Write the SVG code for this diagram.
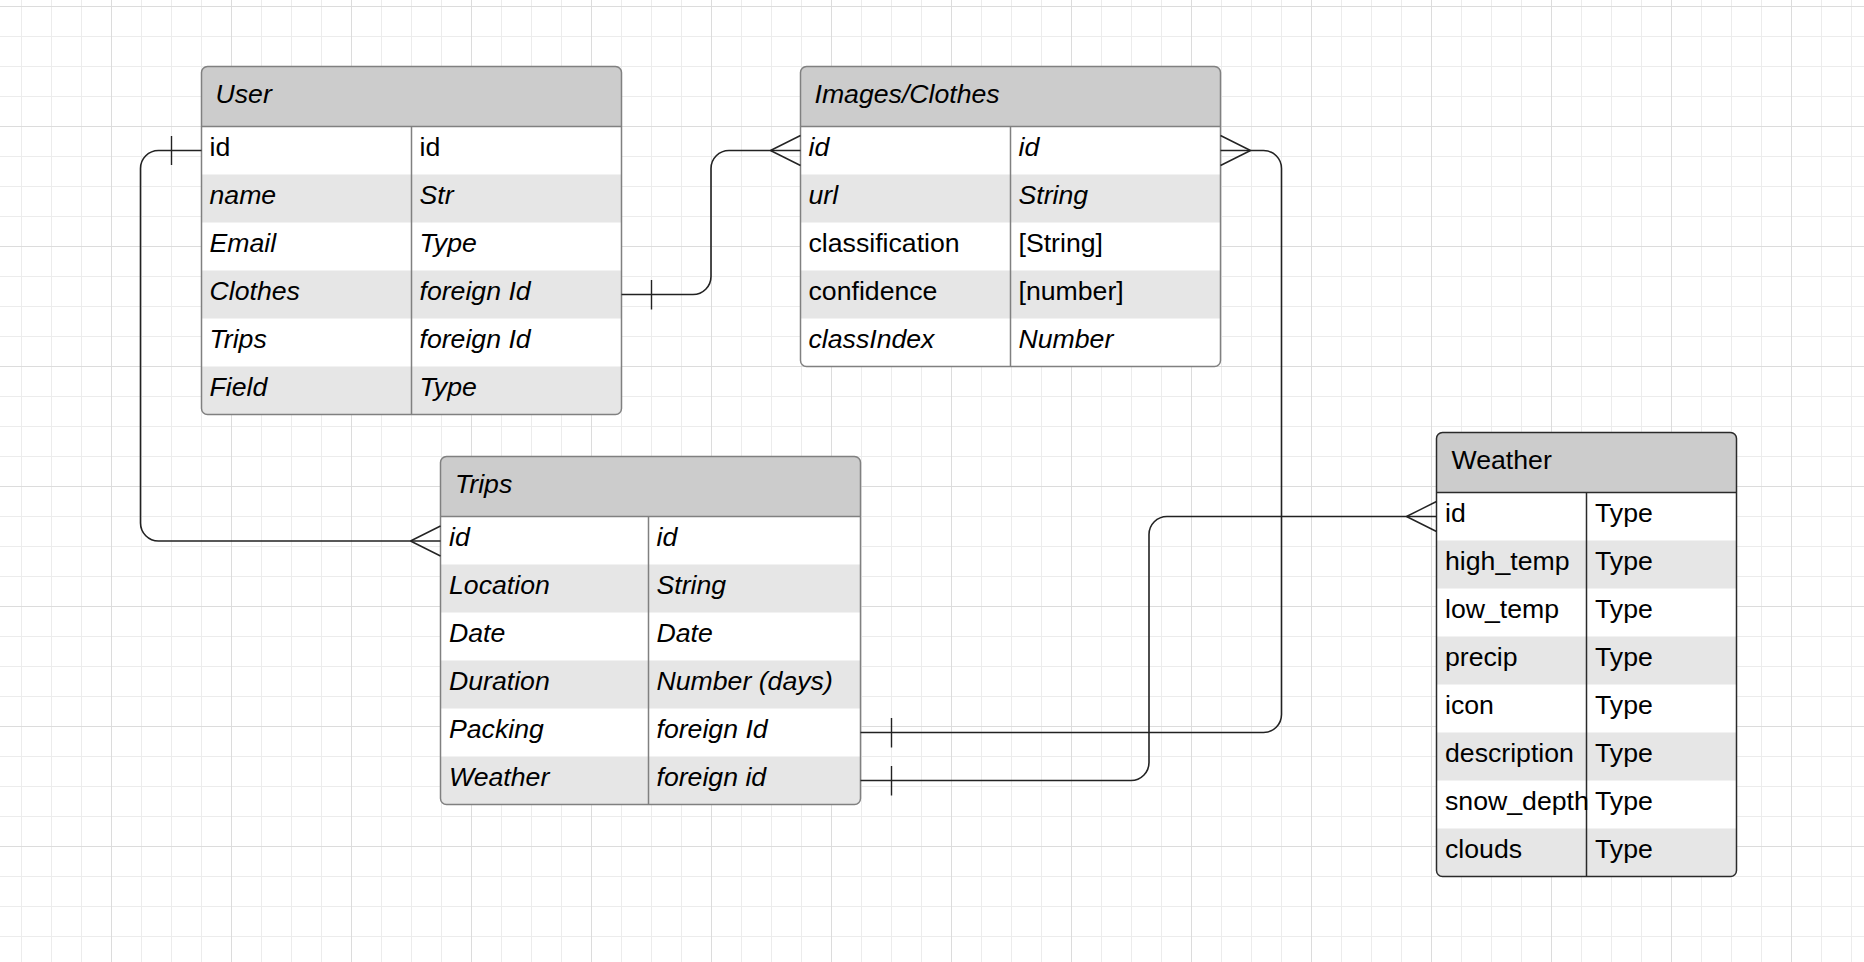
<svg xmlns="http://www.w3.org/2000/svg" width="1864" height="962" viewBox="0 0 1864 962">
  <defs>
    <pattern id="grid" x="111" y="6" width="120" height="120" patternUnits="userSpaceOnUse">
      <path d="M30.5 0V120M60.5 0V120M90.5 0V120M0 30.5H120M0 60.5H120M0 90.5H120" stroke="#ececec" stroke-width="1" fill="none"/>
      <path d="M0.5 0V120M0 0.5H120" stroke="#dcdcdc" stroke-width="1" fill="none"/>
    </pattern>
    <clipPath id="clipUser"><rect x="201.5" y="66.5" width="420" height="348" rx="6"/></clipPath>
    <clipPath id="clipImages"><rect x="800.5" y="66.5" width="420" height="300" rx="6"/></clipPath>
    <clipPath id="clipTrips"><rect x="440.5" y="456.5" width="420" height="348" rx="6"/></clipPath>
    <clipPath id="clipWeather"><rect x="1436.5" y="432.5" width="300" height="444" rx="6"/></clipPath>
  </defs>
  <style>
    text { font-family: "Liberation Sans", Arial, sans-serif; font-size: 26.67px; fill: #000; }
    .i { font-style: italic; }
    .hdr { fill: #cccccc; }
    .alt { fill: #e6e6e6; }
    .body { fill: #ffffff; }
    .frame { fill: none; stroke: #808080; stroke-width: 1.5; }
    .rule { stroke: #808080; stroke-width: 1.5; fill: none; }
    .frame-dark { fill: none; stroke: #2a2a2a; stroke-width: 1.5; }
    .rule-dark { stroke: #2a2a2a; stroke-width: 1.5; fill: none; }
    .conn path { fill: none; stroke: #222; stroke-width: 1.6; }
    .conn .mark { stroke-width: 1.4; }
  </style>

  <!-- background grid -->
  <rect width="1864" height="962" fill="#ffffff"/>
  <rect width="1864" height="962" fill="url(#grid)"/>

  <!-- User entity -->
  <g id="user">
    <g clip-path="url(#clipUser)">
      <rect class="body" x="201.5" y="66.5" width="420" height="348"/>
      <rect class="hdr" x="201.5" y="66.5" width="420" height="60"/>
      <rect class="alt" x="201.5" y="174.5" width="420" height="48"/>
      <rect class="alt" x="201.5" y="270.5" width="420" height="48"/>
      <rect class="alt" x="201.5" y="366.5" width="420" height="48"/>
    </g>
    <path class="rule" d="M201.5 126.5H621.5M411.5 126.5V414.5"/>
    <rect class="frame" x="201.5" y="66.5" width="420" height="348" rx="6"/>
    <text class="i" x="215.5" y="102.5">User</text>
    <text x="209.5" y="156">id</text><text x="419.5" y="156">id</text>
    <text class="i" x="209.5" y="204">name</text><text class="i" x="419.5" y="204">Str</text>
    <text class="i" x="209.5" y="252">Email</text><text class="i" x="419.5" y="252">Type</text>
    <text class="i" x="209.5" y="300">Clothes</text><text class="i" x="419.5" y="300">foreign Id</text>
    <text class="i" x="209.5" y="348">Trips</text><text class="i" x="419.5" y="348">foreign Id</text>
    <text class="i" x="209.5" y="396">Field</text><text class="i" x="419.5" y="396">Type</text>
  </g>

  <!-- Images/Clothes entity -->
  <g id="images">
    <g clip-path="url(#clipImages)">
      <rect class="body" x="800.5" y="66.5" width="420" height="300"/>
      <rect class="hdr" x="800.5" y="66.5" width="420" height="60"/>
      <rect class="alt" x="800.5" y="174.5" width="420" height="48"/>
      <rect class="alt" x="800.5" y="270.5" width="420" height="48"/>
    </g>
    <path class="rule" d="M800.5 126.5H1220.5M1010.5 126.5V366.5"/>
    <rect class="frame" x="800.5" y="66.5" width="420" height="300" rx="6"/>
    <text class="i" x="814.5" y="102.5">Images/Clothes</text>
    <text class="i" x="808.5" y="156">id</text><text class="i" x="1018.5" y="156">id</text>
    <text class="i" x="808.5" y="204">url</text><text class="i" x="1018.5" y="204">String</text>
    <text x="808.5" y="252">classification</text><text x="1018.5" y="252">[String]</text>
    <text x="808.5" y="300">confidence</text><text x="1018.5" y="300">[number]</text>
    <text class="i" x="808.5" y="348">classIndex</text><text class="i" x="1018.5" y="348">Number</text>
  </g>

  <!-- Trips entity -->
  <g id="trips">
    <g clip-path="url(#clipTrips)">
      <rect class="body" x="440.5" y="456.5" width="420" height="348"/>
      <rect class="hdr" x="440.5" y="456.5" width="420" height="60"/>
      <rect class="alt" x="440.5" y="564.5" width="420" height="48"/>
      <rect class="alt" x="440.5" y="660.5" width="420" height="48"/>
      <rect class="alt" x="440.5" y="756.5" width="420" height="48"/>
    </g>
    <path class="rule" d="M440.5 516.5H860.5M648.5 516.5V804.5"/>
    <rect class="frame" x="440.5" y="456.5" width="420" height="348" rx="6"/>
    <text class="i" x="455" y="492.5">Trips</text>
    <text class="i" x="449" y="546">id</text><text class="i" x="656.5" y="546">id</text>
    <text class="i" x="449" y="594">Location</text><text class="i" x="656.5" y="594">String</text>
    <text class="i" x="449" y="642">Date</text><text class="i" x="656.5" y="642">Date</text>
    <text class="i" x="449" y="690">Duration</text><text class="i" x="656.5" y="690">Number (days)</text>
    <text class="i" x="449" y="738">Packing</text><text class="i" x="656.5" y="738">foreign Id</text>
    <text class="i" x="449" y="786">Weather</text><text class="i" x="656.5" y="786">foreign id</text>
  </g>

  <!-- Weather entity -->
  <g id="weather">
    <g clip-path="url(#clipWeather)">
      <rect class="body" x="1436.5" y="432.5" width="300" height="444"/>
      <rect class="hdr" x="1436.5" y="432.5" width="300" height="60"/>
      <rect class="alt" x="1436.5" y="540.5" width="300" height="48"/>
      <rect class="alt" x="1436.5" y="636.5" width="300" height="48"/>
      <rect class="alt" x="1436.5" y="732.5" width="300" height="48"/>
      <rect class="alt" x="1436.5" y="828.5" width="300" height="48"/>
    </g>
    <path class="rule-dark" d="M1436.5 492.5H1736.5M1586.5 492.5V876.5"/>
    <rect class="frame-dark" x="1436.5" y="432.5" width="300" height="444" rx="6"/>
    <text x="1451.5" y="468.5">Weather</text>
    <text x="1445" y="522">id</text><text x="1595" y="522">Type</text>
    <text x="1445" y="570">high_temp</text><text x="1595" y="570">Type</text>
    <text x="1445" y="618">low_temp</text><text x="1595" y="618">Type</text>
    <text x="1445" y="666">precip</text><text x="1595" y="666">Type</text>
    <text x="1445" y="714">icon</text><text x="1595" y="714">Type</text>
    <text x="1445" y="762">description</text><text x="1595" y="762">Type</text>
    <text x="1445" y="810">snow_depth</text><text x="1595" y="810">Type</text>
    <text x="1445" y="858">clouds</text><text x="1595" y="858">Type</text>
  </g>

  <!-- relationships -->
  <g id="connectors" class="conn">
    <!-- User.id  to  Trips.id -->
    <path d="M201.5 150.5H158.5A18 18 0 0 0 140.5 168.5V523A18 18 0 0 0 158.5 541H440.5"/>
    <path class="mark" d="M171.5 136V165"/>
    <path class="mark" d="M410.5 541L440.5 526M410.5 541L440.5 556"/>

    <!-- User.Clothes  to  Images.id -->
    <path d="M621.5 294.5H693A18 18 0 0 0 711 276.5V168.5A18 18 0 0 1 729 150.5H800.5"/>
    <path class="mark" d="M651.5 280V309.5"/>
    <path class="mark" d="M770.5 150.5L800.5 135.5M770.5 150.5L800.5 165.5"/>

    <!-- Images.id  to  Trips.Packing -->
    <path d="M1220.5 150.5H1263.5A18 18 0 0 1 1281.5 168.5V714.5A18 18 0 0 1 1263.5 732.5H860.5"/>
    <path class="mark" d="M1250.5 150.5L1220.5 135.5M1250.5 150.5L1220.5 165.5"/>
    <path class="mark" d="M891.5 718V747.5"/>

    <!-- Weather.id  to  Trips.Weather -->
    <path d="M1436.5 516.5H1167A18 18 0 0 0 1149 534.5V762.5A18 18 0 0 1 1131 780.5H860.5"/>
    <path class="mark" d="M1406.5 516.5L1436.5 501.5M1406.5 516.5L1436.5 531.5"/>
    <path class="mark" d="M891.5 766V795.5"/>
  </g>
</svg>
